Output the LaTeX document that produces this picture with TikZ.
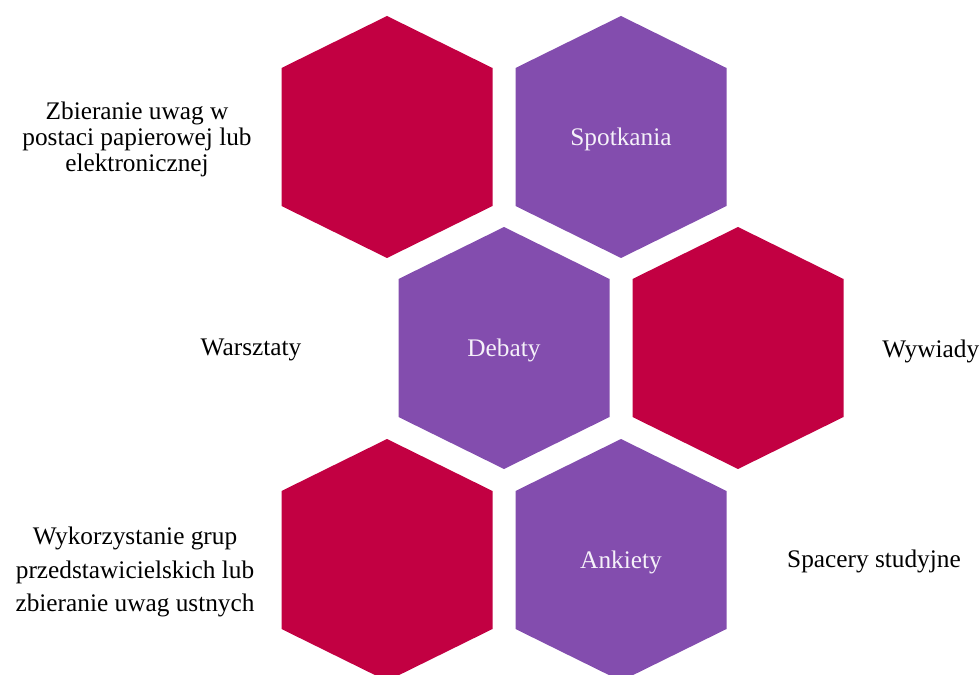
\documentclass[tikz,border=0pt]{standalone}
\usepackage{fontspec}
\setmainfont{Liberation Serif}
\usepackage{tikz}
\usetikzlibrary{positioning, calc}
\definecolor{hexred}{HTML}{C20042}
\definecolor{hexpurple}{HTML}{834DAE}
\tikzset{
    hexlabel/.style={text=white!92!hexpurple, font=\fontsize{18}{21}\selectfont},
    sidelabel/.style={align=center, text=black, font=\fontsize{18}{23.8}\selectfont},
    smalllabel/.style={align=center, text=black, font=\fontsize{18}{18.5}\selectfont},
}

\begin{document}
\begin{tikzpicture}[x=0.025cm, y=-0.025cm]
\useasboundingbox (0,0) rectangle (980,675);
\foreach \name/\cx/\cy/\col in {h1/387/137/hexred, h2/621/137/hexpurple, h3/504/348/hexpurple, h4/738/348/hexred, h5/387/560/hexred, h6/621/560/hexpurple} {
    \fill[\col] (\cx,\cy) ++(0,-121) -- ++(105.5,52) -- ++(0,138) -- ++(-105.5,52) -- ++(-105.5,-52) -- ++(0,-138) -- cycle;
    \coordinate (\name) at (\cx,\cy);
}
\node[hexlabel] (spotkania) at ([yshift=-1.5]h2) {Spotkania};
\node[hexlabel] (debaty) at ([yshift=-1.5]h3) {Debaty};
\node[hexlabel] (ankiety) at ([yshift=-1.5]h6) {Ankiety};

\node[smalllabel] (zbieranie) at (137,139) {Zbieranie uwag w\\postaci papierowej lub\\elektronicznej};
\node[sidelabel] (warsztaty) at (251,350) {Warsztaty};
\node[sidelabel, anchor=west, inner sep=0pt] (wywiady) at (882,351) {Wywiady};
\node[sidelabel] (wykorzystanie) at (135,572) {Wykorzystanie grup\\przedstawicielskich lub\\zbieranie uwag ustnych};
\node[sidelabel] (spacery) at (874,561) {Spacery studyjne};
\end{tikzpicture}
\end{document}
